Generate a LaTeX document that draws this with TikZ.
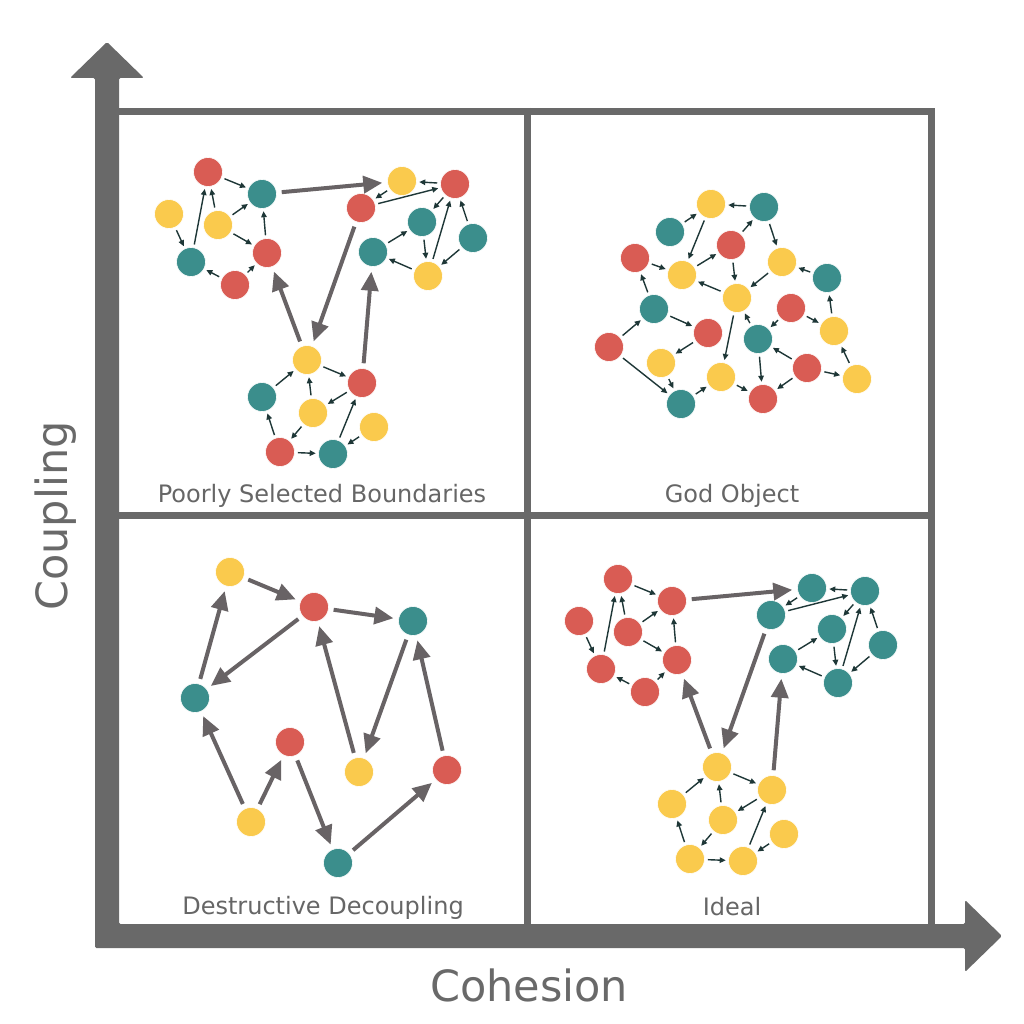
\documentclass[tikz,border=0pt]{standalone}
\usepackage{fontspec}
\setmainfont{DejaVu Sans}
\usetikzlibrary{arrows.meta}
\definecolor{cred}{HTML}{D95C54}
\definecolor{cteal}{HTML}{3B8E8C}
\definecolor{cyel}{HTML}{FACA4D}
\definecolor{axisgray}{HTML}{696969}
\definecolor{biggray}{HTML}{686365}
\definecolor{smallc}{HTML}{1E3737}
\definecolor{txtgray}{HTML}{666666}
\tikzset{
  dot/.style={circle, minimum size=29pt, inner sep=0pt, draw=white, line width=0.6pt},
  nred/.style={dot, fill=cred},
  nteal/.style={dot, fill=cteal},
  nyel/.style={dot, fill=cyel},
  sm/.style={draw=smallc, line width=1.4pt, -{Triangle[length=6pt,width=5.5pt]}, shorten >=2.5pt, shorten <=3pt},
  big/.style={draw=biggray, line width=4pt, -{Triangle[length=19pt,width=17pt]}, shorten >=5pt, shorten <=5pt},
  gridline/.style={draw=axisgray, line width=7pt},
  qlabel/.style={text=txtgray, font=\fontsize{24}{28}\selectfont, anchor=base, inner sep=0pt},
  axlabel/.style={text=axisgray, font=\fontsize{43}{50}\selectfont, anchor=base, inner sep=0pt}
}
\begin{document}
\begin{tikzpicture}[x=1pt, y=-1pt]
\useasboundingbox (0,0) rectangle (1024,1024);
\fill[white] (0,0) rectangle (1024,1024);
% grid
\draw[gridline] (115,111.5) -- (931.5,111.5) -- (931.5,928);
\draw[gridline] (527.5,108) -- (527.5,928);
\draw[gridline] (115,515.5) -- (935,515.5);
% axes
\fill[axisgray, rounded corners=1.5pt] (95,948) -- (95,78) -- (70,78) -- (107,42) -- (144,78) -- (119,78) -- (119,924) -- (965,924) -- (965,900) -- (1002,936) -- (965,972) -- (965,948) -- cycle;
\node[axlabel, rotate=90] (ylab) at (67,516) {Coupling};
\node[axlabel] (xlab) at (529,1001) {Cohesion};
% quadrant labels
\node[qlabel] (q1) at (322,502) {Poorly Selected Boundaries};
\node[qlabel] (q2) at (732,502) {God Object};
\node[qlabel] (q3) at (323,914) {Destructive Decoupling};
\node[qlabel] (q4) at (732,915) {Ideal};

% ===== Poorly Selected Boundaries =====
\node[nred]  (a1) at (208,172) {};
\node[nteal] (a2) at (262,194) {};
\node[nyel]  (a3) at (169,214) {};
\node[nyel]  (a4) at (218,225) {};
\node[nteal] (a5) at (191,262) {};
\node[nred]  (a6) at (267,253) {};
\node[nred]  (a7) at (235,285) {};
\node[nyel]  (b1) at (402,181) {};
\node[nred]  (b2) at (455,184) {};
\node[nred]  (b3) at (361,208) {};
\node[nteal] (b4) at (422,222) {};
\node[nteal] (b5) at (473,238) {};
\node[nteal] (b6) at (373,252) {};
\node[nyel]  (b7) at (428,276) {};
\node[nyel]  (c1) at (307,360) {};
\node[nred]  (c2) at (362,383) {};
\node[nteal] (c3) at (262,397) {};
\node[nyel]  (c4) at (313,413) {};
\node[nyel]  (c5) at (374,427) {};
\node[nred]  (c6) at (280,452) {};
\node[nteal] (c7) at (333,454) {};
\foreach \s/\t in {a1/a2,a5/a1,a4/a1,a4/a2,a4/a6,a6/a2,a3/a5,a7/a5,a7/a6,
  b2/b1,b1/b3,b3/b2,b2/b4,b6/b4,b4/b7,b7/b2,b5/b2,b5/b7,b7/b6,
  c1/c2,c3/c1,c4/c1,c2/c4,c4/c6,c6/c3,c6/c7,c7/c2,c5/c7}
  \draw[sm] (\s) -- (\t);
\foreach \s/\t in {a2/b1,b3/c1,c1/a6,c2/b6}
  \draw[big] (\s) -- (\t);

% ===== Ideal =====
\begin{scope}[shift={(410,407)}]
\node[nred]  (i1) at (208,172) {};
\node[nred]  (i2) at (262,194) {};
\node[nred]  (i3) at (169,214) {};
\node[nred]  (i4) at (218,225) {};
\node[nred]  (i5) at (191,262) {};
\node[nred]  (i6) at (267,253) {};
\node[nred]  (i7) at (235,285) {};
\node[nteal] (j1) at (402,181) {};
\node[nteal] (j2) at (455,184) {};
\node[nteal] (j3) at (361,208) {};
\node[nteal] (j4) at (422,222) {};
\node[nteal] (j5) at (473,238) {};
\node[nteal] (j6) at (373,252) {};
\node[nteal] (j7) at (428,276) {};
\node[nyel]  (k1) at (307,360) {};
\node[nyel]  (k2) at (362,383) {};
\node[nyel]  (k3) at (262,397) {};
\node[nyel]  (k4) at (313,413) {};
\node[nyel]  (k5) at (374,427) {};
\node[nyel]  (k6) at (280,452) {};
\node[nyel]  (k7) at (333,454) {};
\end{scope}
\foreach \s/\t in {i1/i2,i5/i1,i4/i1,i4/i2,i4/i6,i6/i2,i3/i5,i7/i5,i7/i6,
  j2/j1,j1/j3,j3/j2,j2/j4,j6/j4,j4/j7,j7/j2,j5/j2,j5/j7,j7/j6,
  k1/k2,k3/k1,k4/k1,k2/k4,k4/k6,k6/k3,k6/k7,k7/k2,k5/k7}
  \draw[sm] (\s) -- (\t);
\foreach \s/\t in {i2/j1,j3/k1,k1/i6,k2/j6}
  \draw[big] (\s) -- (\t);

% ===== God Object =====
\node[nyel]  (g1) at (711,204) {};
\node[nteal] (g2) at (764,207) {};
\node[nteal] (g3) at (670,232) {};
\node[nred]  (g4) at (731,245) {};
\node[nred]  (g5) at (635,258) {};
\node[nyel]  (g6) at (782,262) {};
\node[nyel]  (g7) at (682,275) {};
\node[nteal] (g8) at (827,278) {};
\node[nyel]  (g9) at (737,298) {};
\node[nteal] (g10) at (654,309) {};
\node[nred]  (g11) at (791,308) {};
\node[nred]  (g12) at (708,333) {};
\node[nyel]  (g13) at (834,331) {};
\node[nteal] (g14) at (758,339) {};
\node[nred]  (g15) at (609,347) {};
\node[nyel]  (g16) at (661,363) {};
\node[nred]  (g17) at (807,368) {};
\node[nyel]  (g18) at (721,377) {};
\node[nyel]  (g19) at (857,379) {};
\node[nteal] (g20) at (681,404) {};
\node[nred]  (g21) at (763,399) {};
\foreach \s/\t in {g3/g1,g2/g1,g1/g7,g4/g2,g7/g4,g2/g6,g5/g7,g4/g9,g6/g9,g9/g7,
  g8/g6,g10/g5,g15/g10,g10/g12,g9/g18,g14/g9,g11/g14,g11/g13,g13/g8,g12/g16,
  g16/g20,g15/g20,g20/g18,g18/g21,g14/g21,g17/g14,g17/g21,g17/g19,g19/g13}
  \draw[sm] (\s) -- (\t);

% ===== Destructive Decoupling =====
\node[nyel]  (d1) at (230,572) {};
\node[nred]  (d2) at (314,607) {};
\node[nteal] (d3) at (413,621) {};
\node[nteal] (d4) at (195,698) {};
\node[nred]  (d5) at (290,742) {};
\node[nyel]  (d6) at (359,772) {};
\node[nred]  (d7) at (447,770) {};
\node[nyel]  (d8) at (251,822) {};
\node[nteal] (d9) at (338,863) {};
\foreach \s/\t in {d1/d2,d2/d3,d4/d1,d2/d4,d6/d2,d3/d6,d7/d3,d8/d4,d8/d5,d5/d9,d9/d7}
  \draw[big] (\s) -- (\t);
\end{tikzpicture}
\end{document}
